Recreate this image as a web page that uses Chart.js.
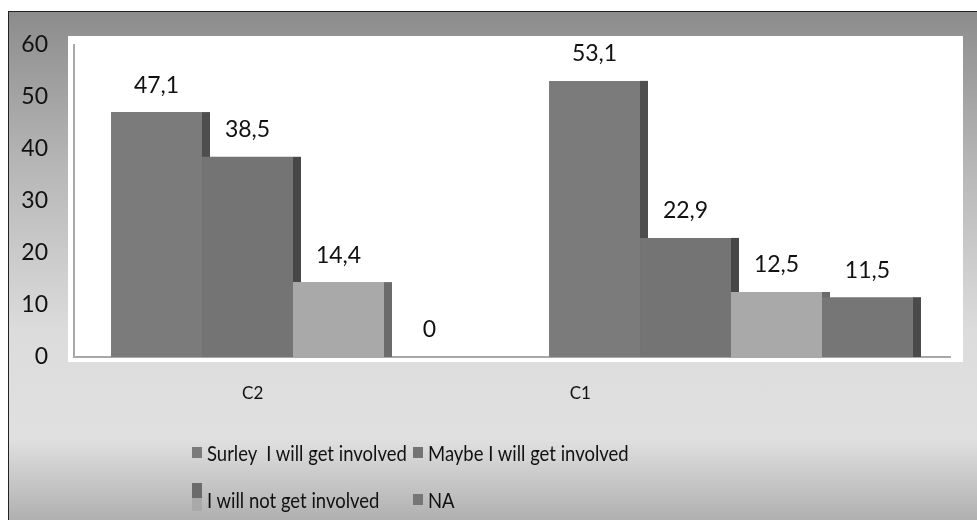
<!DOCTYPE html>
<html>
<head>
<meta charset="utf-8">
<script src="https://cdn.jsdelivr.net/npm/chart.js@4.4.1/dist/chart.umd.min.js"></script>
<style>
    html, body { margin: 0; padding: 0; background: #ffffff; }
    #frame {
        position: absolute; left: 8px; top: 11px; width: 969px; height: 509px;
        box-sizing: border-box;
        border-top: 1px solid #222; border-left: 1px solid #222;
        background: linear-gradient(to bottom, #8c8c8c 0%, #b6b6b6 30%, #dcdcdc 63%, #e0e0e0 84%, #b0b0b0 100%);
        overflow: hidden;
    }
    #myChart { position: absolute; left: 0; top: 0; }
    #legend {
        position: absolute; left: 183px; top: 427px;
        display: grid; grid-template-columns: 221px auto; row-gap: 21px;
        font-family: Lato, sans-serif; font-size: 22px; color: #111;
    }
    .item { display: flex; align-items: center; height: 26px; white-space: pre; }
    .swatch { width: 10px; height: 11px; margin-right: 5px; flex: none; }
    .name { display: inline-block; transform: scaleX(0.84); transform-origin: left center; }
</style>
</head>
<body>
<div id="frame">
    <canvas id="myChart" width="968" height="508"></canvas>
    <div id="legend"></div>
</div>
<script>
const categories = ['C2', 'C1'];
const seriesNames = ['Surley  I will get involved', 'Maybe I will get involved', 'I will not get involved', 'NA'];
const surelyValues = [47.1, 53.1];
const maybeValues = [38.5, 22.9];
const notValues = [14.4, 12.5];
const naValues = [0, 11.5];
const yTicks = [0, 10, 20, 30, 40, 50, 60];

// front face and darker right-hand side of each column
const frontColors = ['#7b7b7b', '#747474', '#a9a9a9', '#767676'];
const sideColors = ['#4e4e4e', '#474747', '#6b6b6b', '#4a4a4a'];
// where the category names sit along the bottom (fraction of plot width)
const labelSpots = [0.204, 0.578];

const seriesValues = [surelyValues, maybeValues, notValues, naValues];
const labelFont = "23px Lato, sans-serif";

// white plot panel behind the axes
const plotPanel = {
    id: 'plotPanel',
    beforeDraw(chart) {
        const a = chart.chartArea, ctx = chart.ctx;
        ctx.save();
        ctx.fillStyle = '#ffffff';
        ctx.fillRect(a.left - 6, a.top - 9, a.right - a.left + 19, a.bottom - a.top + 14);
        ctx.restore();
    }
};

// dark strip on the right of every column, the next column covers it
const sideFaces = {
    id: 'sideFaces',
    beforeDatasetsDraw(chart) {
        const ctx = chart.ctx;
        ctx.save();
        chart.data.datasets.forEach((ds, i) => {
            chart.getDatasetMeta(i).data.forEach(bar => {
                const h = bar.base - bar.y;
                if (h <= 0) return;
                ctx.fillStyle = sideColors[i];
                ctx.fillRect(bar.x + bar.width / 2, bar.y, 8, h);
            });
        });
        ctx.restore();
    }
};

// value above each column, decimal comma
const valueLabels = {
    id: 'valueLabels',
    afterDatasetsDraw(chart) {
        const ctx = chart.ctx;
        ctx.save();
        ctx.font = labelFont;
        ctx.fillStyle = '#111';
        ctx.textAlign = 'center';
        ctx.textBaseline = 'middle';
        chart.data.datasets.forEach((ds, i) => {
            chart.getDatasetMeta(i).data.forEach((bar, j) => {
                ctx.fillText(String(ds.data[j]).replace('.', ','), bar.x, bar.y - 27);
            });
        });
        ctx.restore();
    }
};

// two-column legend under the chart
const htmlLegend = {
    id: 'htmlLegend',
    afterUpdate(chart) {
        const box = document.getElementById('legend');
        box.innerHTML = '';
        const items = Chart.defaults.plugins.legend.labels.generateLabels(chart);
        items.forEach((item, i) => {
            const row = document.createElement('div');
            row.className = 'item';
            const sw = document.createElement('span');
            sw.className = 'swatch';
            if (i === 2) {
                sw.style.height = '28px';
                sw.style.background = 'linear-gradient(to bottom, ' + sideColors[i] + ' 0 52%, ' + frontColors[i] + ' 52% 100%)';
                sw.style.marginTop = '-4px';
            } else {
                sw.style.background = item.fillStyle;
            }
            const txt = document.createElement('span');
            txt.className = 'name';
            txt.textContent = item.text;
            row.appendChild(sw);
            row.appendChild(txt);
            box.appendChild(row);
        });
    }
};

const data = {
    labels: categories,
    datasets: seriesNames.map((name, i) => ({
        label: name,
        data: seriesValues[i],
        backgroundColor: frontColors[i],
        borderWidth: 0,
        categoryPercentage: 0.831,
        barPercentage: 1.0
    }))
};

const config = {
    type: 'bar',
    data: data,
    options: {
        responsive: false,
        animation: false,
        layout: { padding: { top: 33, right: 27, bottom: 103, left: 0 } },
        plugins: {
            legend: { display: false },
            tooltip: { enabled: false }
        },
        scales: {
            x: {
                grid: { display: false, drawTicks: false },
                ticks: { display: false },
                border: { display: true, color: '#a8a8a8', width: 2, dash: [2, 1] },
                afterFit(scale) { scale.height = 0; }
            },
            xNames: {
                type: 'linear',
                position: 'bottom',
                offset: false,
                min: 0,
                max: 1,
                grid: { display: false, drawTicks: false, offset: false },
                border: { display: false },
                afterBuildTicks(axis) { axis.ticks = labelSpots.map(v => ({ value: v })); },
                ticks: {
                    autoSkip: false,
                    maxRotation: 0,
                    padding: 26,
                    color: '#111',
                    font: { family: 'Lato, sans-serif', size: 17 },
                    callback: (value, index) => categories[index]
                },
                afterFit(scale) { scale.height = 60; }
            },
            y: {
                min: 0,
                max: 60,
                afterBuildTicks(axis) { axis.ticks = yTicks.map(v => ({ value: v })); },
                grid: { display: false, drawTicks: false },
                border: { display: true, color: '#a8a8a8', width: 2, dash: [2, 1] },
                ticks: {
                    padding: 26,
                    color: '#111',
                    font: { family: 'Lato, sans-serif', size: 23 }
                },
                afterFit(scale) {
                    scale.width = 65;
                    scale.paddingTop = 12;
                    scale.paddingBottom = 12;
                }
            }
        }
    },
    plugins: [plotPanel, sideFaces, valueLabels, htmlLegend]
};

var myChart = new Chart(document.getElementById('myChart'), config);
</script>
</body>
</html>
